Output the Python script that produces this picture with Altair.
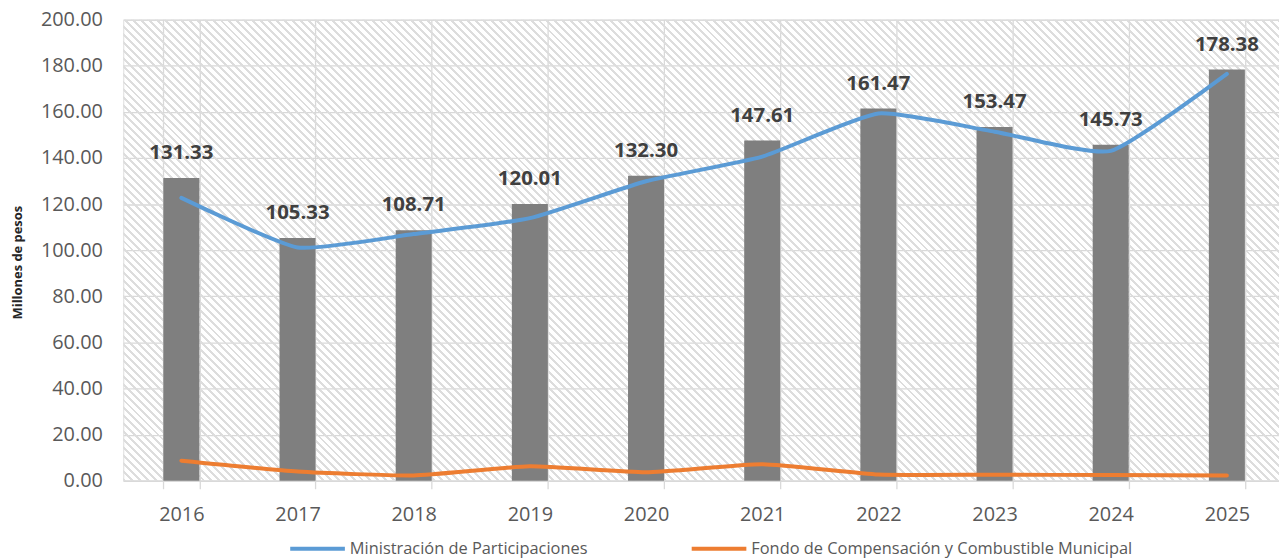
import altair as alt
import pandas as pd

# ---------------- data ----------------
years = ["2016", "2017", "2018", "2019", "2020", "2021", "2022", "2023", "2024", "2025"]
totals = [131.33, 105.33, 108.71, 120.01, 132.30, 147.61, 161.47, 153.47, 145.73, 178.38]
ministracion = [122.7, 101.2, 107.0, 113.9, 129.9, 140.6, 159.3, 151.4, 143.1, 176.5]
fondo = [8.7, 4.0, 2.3, 6.3, 3.7, 7.2, 2.7, 2.6, 2.5, 2.3]
series_names = ["Ministración de Participaciones",
                "Fondo de Compensación y Combustible Municipal"]
series_colors = ["#5B9BD5", "#ED7D31"]
y_ticks = [0, 20, 40, 60, 80, 100, 120, 140, 160, 180, 200]

bars_df = pd.DataFrame({"year": years, "total": totals})
lines_df = pd.DataFrame({
    "year": years + years,
    "serie": [series_names[0]] * len(years) + [series_names[1]] * len(years),
    "valor": ministracion + fondo,
})
bg_df = pd.DataFrame({"k": [0]})

# ---------------- layout ----------------
W, H = 1163, 464
X_RANGE = 1169
FONT = "Open Sans"

# diagonal hatch ("\\\\") built as a striped linear gradient
period, thick = 8.0, 3.0
span = W + H
stripe = "#dddddd"
clear = "rgba(255,255,255,0)"
stops = []
pos = 0.0
while pos < span:
    a = pos / span
    b = min((pos + thick) / span, 1.0)
    c = min((pos + period) / span, 1.0)
    stops += [
        {"offset": a, "color": stripe},
        {"offset": b, "color": stripe},
        {"offset": b, "color": clear},
        {"offset": c, "color": clear},
    ]
    pos += period
r = H / W
k = (1 + r) / (1 + r * r)
hatch_fill = alt.LinearGradient(
    gradient="linear", stops=stops, x1=0, y1=1, x2=k, y2=1 - k * r
)

x_scale = alt.Scale(range=[0, X_RANGE], paddingInner=0.69, paddingOuter=0.345)
x_axis = alt.Axis(
    tickBand="extent", grid=True, gridColor="#d9d9d9", gridWidth=1.3,
    ticks=True, tickSize=8, tickColor="#d9d9d9", tickWidth=1.3,
    domain=True, domainColor="#d9d9d9", domainWidth=1.5,
    labelFont=FONT, labelFontSize=20, labelColor="#595959",
    labelPadding=16, labelAngle=0, title=None,
)
y_scale = alt.Scale(domain=[0, 200], nice=False)
y_axis = alt.Axis(
    values=y_ticks, format=".2f", grid=True, gridColor="#d9d9d9", gridWidth=1.3,
    domain=False, ticks=False, tickSize=0,
    labelFont=FONT, labelFontSize=20, labelColor="#595959", labelPadding=21,
    title="Millones de pesos", titleFont=FONT, titleFontSize=13,
    titleFontWeight="bold", titleColor="#262626",
    titleX=-106, titleY=244, titleBaseline="middle", titleAngle=270,
)

hatch = alt.Chart(bg_df).mark_rect(fill=hatch_fill, strokeWidth=0).encode(
    x=alt.value(0), x2=alt.value("width"), y=alt.value(0), y2=alt.value("height")
)

bars = alt.Chart(bars_df).mark_bar(color="#7F7F7F").encode(
    x=alt.X("year:N", scale=x_scale, axis=x_axis, sort=years),
    y=alt.Y("total:Q", scale=y_scale, axis=y_axis),
)

labels = alt.Chart(bars_df).mark_text(
    dy=-25, font=FONT, fontSize=20.5, fontWeight="bold", color="#404040",
    baseline="middle", align="center",
).encode(
    x=alt.X("year:N", sort=years),
    y=alt.Y("total:Q"),
    text=alt.Text("total:Q", format=".2f"),
)

lines = alt.Chart(lines_df).mark_line(
    strokeWidth=4, interpolate="cardinal", tension=0.5, strokeCap="round"
).encode(
    x=alt.X("year:N", sort=years),
    y=alt.Y("valor:Q"),
    color=alt.Color(
        "serie:N",
        scale=alt.Scale(domain=series_names, range=series_colors),
        sort=series_names,
        legend=alt.Legend(
            orient="none", legendX=166, legendY=503, direction="horizontal",
            title=None, symbolType="stroke", symbolSize=3025,
            symbolStrokeWidth=4, labelFont=FONT, labelFontSize=16.5,
            labelColor="#595959", labelOffset=3, labelLimit=0,
            columnPadding=96, padding=0,
        ),
    ),
    detail="serie:N",
)

chart = alt.layer(hatch, bars, lines, labels).properties(
    width=W, height=H,
    autosize=alt.AutoSizeParams(type="none"),
    padding={"left": 116, "top": 10, "right": 0, "bottom": 78},
).configure_view(stroke=None, fill="white").configure(background="white")

chart.save("out.html", embed_options={"renderer": "svg", "actions": False})
